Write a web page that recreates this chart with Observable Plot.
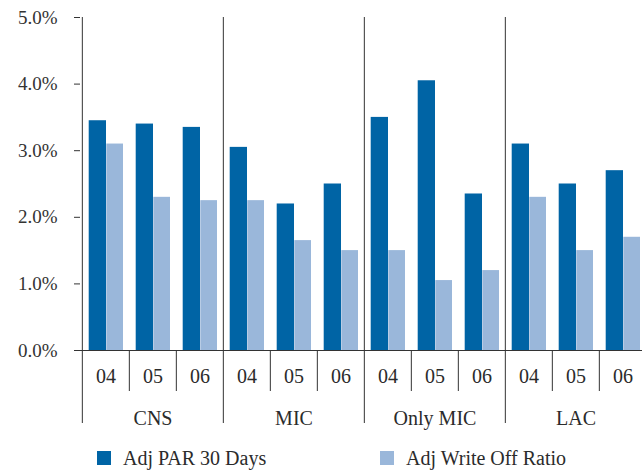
<!DOCTYPE html>
<html>
<head>
<meta charset="utf-8">
<script src="https://cdn.jsdelivr.net/npm/d3@7"></script>
<script src="https://cdn.jsdelivr.net/npm/@observablehq/plot@0.6"></script>
<style>
  html, body { margin: 0; padding: 0; background: #fff; overflow: hidden; }
  #chart svg { overflow: hidden; }
  .legend { position: relative; width: 642px; height: 39px; font-family: "Liberation Serif", "DejaVu Serif", "Noto Serif", serif; font-size: 20px; color: #2b2b2b; }
  .legend .item { position: absolute; top: 12px; display: flex; align-items: center; height: 28px; white-space: nowrap; }
  .legend .sw { width: 14px; height: 14px; margin-right: 12px; }
</style>
</head>
<body>
<div id="chart"></div>
<script>
// Portfolio quality by region and year (values in percent)
const groups = ["CNS", "MIC", "Only MIC", "LAC"];
const years = ["04", "05", "06"];
const seriesNames = ["Adj PAR 30 Days", "Adj Write Off Ratio"];
const seriesColors = ["#0064a5", "#9ab7da"];
const parValues = [3.45, 3.40, 3.35, 3.05, 2.20, 2.50, 3.50, 4.05, 2.35, 3.10, 2.50, 2.70];
const writeOffValues = [3.10, 2.30, 2.25, 2.25, 1.65, 1.50, 1.50, 1.05, 1.20, 2.30, 1.50, 1.70];
const yTicks = [0, 1, 2, 3, 4, 5];

// One slot per region/year pair
const slots = groups.flatMap(g => years.map(y => ({group: g, year: y, key: `${g} ${y}`})));
const rows = slots.map((s, i) => ({...s, par: parValues[i], writeOff: writeOffValues[i]}));

const width = 642, height = 432;
const marginLeft = 80, marginRight = -6, marginTop = 17, marginBottom = 82;
const step = (width - marginLeft - marginRight) / slots.length;
const font = "'Liberation Serif', 'DejaVu Serif', 'Noto Serif', serif";
const ink = "#333";

const chart = Plot.plot({
  width, height, marginLeft, marginRight, marginTop, marginBottom,
  style: {fontFamily: font, fontSize: "20px", color: "#2b2b2b", background: "#fff"},
  x: {domain: slots.map(s => s.key), padding: 0, axis: null},
  y: {domain: [0, 5], axis: null},
  marks: [
    Plot.barY(rows, {x: "key", y: "par", fill: seriesColors[0], insetLeft: 6.7, insetRight: 23}),
    Plot.barY(rows, {x: "key", y: "writeOff", fill: seriesColors[1], insetLeft: 24.3, insetRight: 6}),
    Plot.axisY({ticks: yTicks, tickSize: 6, tickPadding: 17, tickFormat: d => d.toFixed(1) + "%", fontSize: 19, fontFamily: font, color: ink}),
    Plot.ruleY([0], {stroke: ink, insetLeft: -6}),
    // region dividers (the first one doubles as the y axis line)
    Plot.ruleX(slots.filter(s => s.year === years[0]), {x: "key", dx: -step / 2, stroke: ink, insetBottom: -73}),
    // year dividers below the baseline
    Plot.ruleX(slots.filter(s => s.year !== years[0]), {x: "key", y1: 0, y2: 0, dx: -step / 2, stroke: ink, insetBottom: -41}),
    Plot.text(slots, {x: "key", text: "year", frameAnchor: "bottom", dy: 32, fontSize: 20, fontFamily: font}),
    Plot.text(groups, {x: g => `${g} ${years[1]}`, text: d => d, frameAnchor: "bottom", dy: 74, fontSize: 20, fontFamily: font})
  ]
});
document.getElementById("chart").appendChild(chart);

// Legend below the chart
const legend = document.createElement("div");
legend.className = "legend";
const legendLeft = [97, 380];
seriesNames.forEach((name, i) => {
  const item = document.createElement("div");
  item.className = "item";
  item.style.left = legendLeft[i] + "px";
  const sw = document.createElement("span");
  sw.className = "sw";
  sw.style.background = seriesColors[i];
  const label = document.createElement("span");
  label.textContent = name;
  item.append(sw, label);
  legend.appendChild(item);
});
document.body.appendChild(legend);
</script>
</body>
</html>
